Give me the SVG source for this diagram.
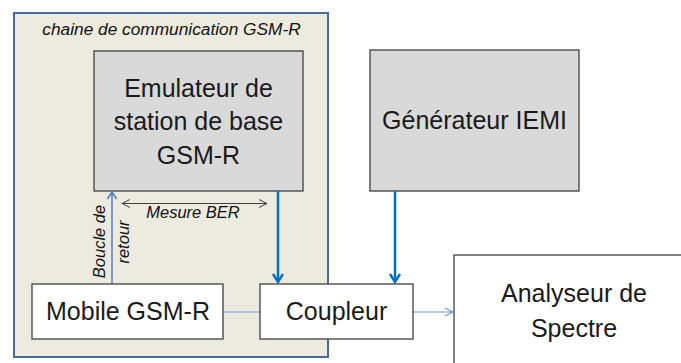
<svg xmlns="http://www.w3.org/2000/svg" width="681" height="363" viewBox="0 0 681 363">
<defs>
<style>
.box{stroke:#404040;stroke-width:1.3}
.gray{fill:#D9D9D9}
.white{fill:#FFFFFF}
.big{font-family:"Liberation Sans",Arial,sans-serif;font-size:25px;fill:#1A1A1A;text-anchor:middle}
.small{font-family:"Liberation Sans",Arial,sans-serif;font-size:16.5px;font-style:italic;fill:#111;text-anchor:middle}
.title{font-size:17.3px}
.thick{stroke:#0070C0;stroke-width:2.5;fill:none}
.loop{stroke:#4F81BD;stroke-width:1.5;fill:none}
.thin{stroke:#6F95CF;stroke-width:1.1;fill:none}
.ber{stroke:#404040;stroke-width:1;fill:none}
</style>
<marker id="mThick" markerUnits="userSpaceOnUse" markerWidth="14" markerHeight="14" refX="8" refY="5" orient="auto" overflow="visible">
<path d="M0,0 L8,5 L0,10" fill="none" stroke="#0070C0" stroke-width="2.5"/>
</marker>
<marker id="mLoop" markerUnits="userSpaceOnUse" markerWidth="12" markerHeight="12" refX="7" refY="4.5" orient="auto" overflow="visible">
<path d="M0,0 L7,4.5 L0,9" fill="none" stroke="#4F81BD" stroke-width="1.5"/>
</marker>
<marker id="mThin" markerUnits="userSpaceOnUse" markerWidth="12" markerHeight="12" refX="8" refY="4" orient="auto" overflow="visible">
<path d="M0,0 L8,4 L0,8" fill="none" stroke="#6F95CF" stroke-width="1.1"/>
</marker>
<marker id="mBer" markerUnits="userSpaceOnUse" markerWidth="12" markerHeight="12" refX="8" refY="4" orient="auto-start-reverse" overflow="visible">
<path d="M0,0 L8,4 L0,8" fill="none" stroke="#404040" stroke-width="1"/>
</marker>
</defs>
<rect width="681" height="363" fill="#FFFFFF"/>

<g id="chaine">
<rect x="14" y="13" width="314" height="344" fill="#EDEAE0" stroke="#4A6A9C" stroke-width="2"/>
<text class="small title" x="171.5" y="35">chaine de communication GSM-R</text>
</g>

<g id="emulateur">
<rect class="box gray" x="94" y="51" width="209" height="140"/>
<text class="big" x="198.5" y="97">Emulateur de</text>
<text class="big" x="198.5" y="130">station de base</text>
<text class="big" x="198.5" y="164">GSM-R</text>
</g>

<g id="generateur">
<rect class="box gray" x="370" y="50" width="209" height="141"/>
<text class="big" x="474.5" y="129">Générateur IEMI</text>
</g>

<g id="analyseur">
<rect class="box white" x="454" y="255" width="250" height="130"/>
<text class="big" x="574" y="302">Analyseur de</text>
<text class="big" x="574" y="337">Spectre</text>
</g>

<g id="connectors">
<path class="thin" d="M223 312 H260"/>
<path class="thin" d="M413 312 H453" marker-end="url(#mThin)"/>
<path class="thick" d="M278 191 V282" marker-end="url(#mThick)"/>
<path class="thick" d="M395 191 V282" marker-end="url(#mThick)"/>
<path class="loop" d="M112 284 V192" marker-end="url(#mLoop)"/>
<path class="ber" d="M122 203.5 H267" marker-start="url(#mBer)" marker-end="url(#mBer)"/>
<text class="small" x="193" y="217.5">Mesure BER</text>
<text class="small" transform="translate(104.5 241.5) rotate(-90)">Boucle de</text>
<text class="small" transform="translate(128.5 242) rotate(-90)">retour</text>
</g>

<g id="mobile">
<rect class="box white" x="32" y="284" width="191" height="55"/>
<text class="big" x="128" y="319.5">Mobile GSM-R</text>
</g>

<g id="coupleur">
<rect class="box white" x="260" y="284" width="153" height="55"/>
<text class="big" x="336.5" y="320">Coupleur</text>
</g>
</svg>
